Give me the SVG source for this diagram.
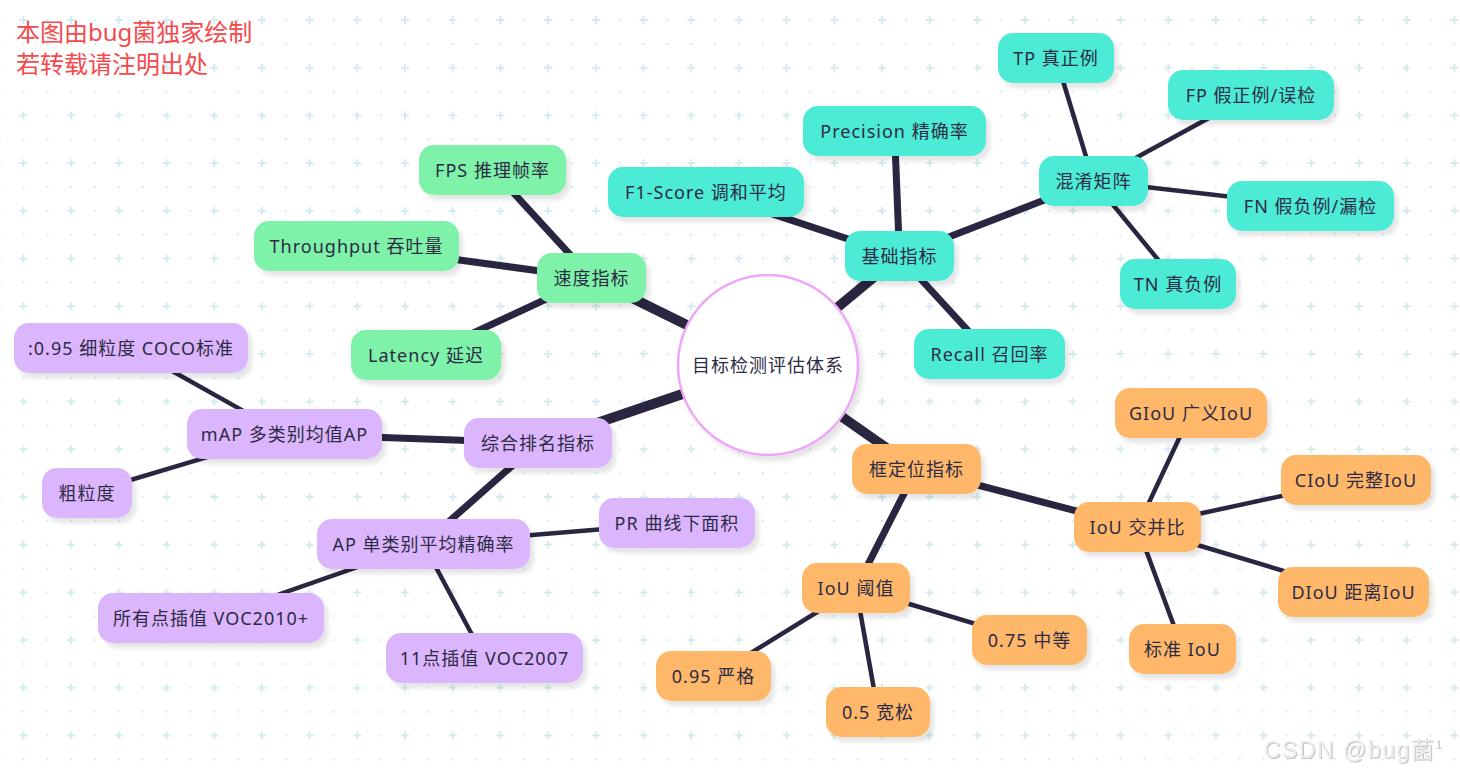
<svg xmlns="http://www.w3.org/2000/svg" width="1460" height="777" viewBox="0 0 1460 777">
<defs>
<pattern id="bg" x="11.475" y="8.075" width="47.7" height="47.7" patternUnits="userSpaceOnUse">
<path d="M7.9 11.925h8M11.925 7.9v8" stroke="#d4ecef" stroke-width="2"/>
<circle cx="35.775" cy="11.925" r="1.3" fill="#d8eef1"/>
<circle cx="11.925" cy="35.775" r="1.3" fill="#d8eef1"/>
<circle cx="35.775" cy="35.775" r="1.3" fill="#d8eef1"/>
</pattern>
<filter id="sh" x="-20%" y="-30%" width="140%" height="170%">
<feDropShadow dx="4" dy="5" stdDeviation="2" flood-color="#000" flood-opacity="0.1"/>
</filter>
<filter id="emb" x="-5%" y="-20%" width="110%" height="140%">
<feDropShadow dx="1" dy="1" stdDeviation="0.6" flood-color="#9a9a9a" flood-opacity="0.6"/>
</filter>
</defs>
<style>
.edge line{stroke:#2a2540;stroke-linecap:round}
.l1{stroke-width:10}
.l2{stroke-width:7}
.l3{stroke-width:4.5}
.node rect{filter:url(#sh)}
.node text{font-family:"Noto Sans","Noto Sans CJK SC",sans-serif;font-size:18px;fill:#2d2b45;text-anchor:middle;letter-spacing:1px}
.t rect{fill:#4bebd6}
.g rect{fill:#7df2a8}
.p rect{fill:#dcb6fc}
.o rect{fill:#ffb869}
.wm{font-family:"Noto Sans","Noto Sans CJK SC",sans-serif;font-size:24px;fill:#f5494c}
</style>
<rect width="1460" height="777" fill="#ffffff"/>
<rect width="1460" height="777" fill="url(#bg)"/>

<g id="connectors" class="edge">
<line class="l1" x1="768" y1="365" x2="899.5" y2="256"/>
<line class="l1" x1="768" y1="365" x2="591.5" y2="278"/>
<line class="l1" x1="768" y1="365" x2="538" y2="443"/>
<line class="l1" x1="768" y1="365" x2="916.5" y2="469"/>
<line class="l2" x1="899.5" y1="256" x2="894.5" y2="131"/>
<line class="l2" x1="899.5" y1="256" x2="706" y2="192"/>
<line class="l2" x1="899.5" y1="256" x2="989.5" y2="354"/>
<line class="l2" x1="899.5" y1="256" x2="1093.5" y2="181"/>
<line class="l2" x1="591.5" y1="278" x2="492.5" y2="170"/>
<line class="l2" x1="591.5" y1="278" x2="356.5" y2="246"/>
<line class="l2" x1="591.5" y1="278" x2="426" y2="355"/>
<line class="l2" x1="538" y1="443" x2="284.5" y2="434"/>
<line class="l2" x1="538" y1="443" x2="423.5" y2="544"/>
<line class="l2" x1="916.5" y1="469" x2="1137.5" y2="527"/>
<line class="l2" x1="916.5" y1="469" x2="856" y2="588"/>
<line class="l3" x1="1093.5" y1="181" x2="1056" y2="58"/>
<line class="l3" x1="1093.5" y1="181" x2="1251" y2="95"/>
<line class="l3" x1="1093.5" y1="181" x2="1310.5" y2="206"/>
<line class="l3" x1="1093.5" y1="181" x2="1178" y2="284"/>
<line class="l3" x1="284.5" y1="434" x2="131" y2="348"/>
<line class="l3" x1="284.5" y1="434" x2="87" y2="493"/>
<line class="l3" x1="423.5" y1="544" x2="677" y2="523"/>
<line class="l3" x1="423.5" y1="544" x2="211" y2="618"/>
<line class="l3" x1="423.5" y1="544" x2="484.5" y2="658"/>
<line class="l3" x1="1137.5" y1="527" x2="1191" y2="413"/>
<line class="l3" x1="1137.5" y1="527" x2="1356" y2="480"/>
<line class="l3" x1="1137.5" y1="527" x2="1353.5" y2="592"/>
<line class="l3" x1="1137.5" y1="527" x2="1182.5" y2="649"/>
<line class="l3" x1="856" y1="588" x2="1029.5" y2="640"/>
<line class="l3" x1="856" y1="588" x2="713.5" y2="676"/>
<line class="l3" x1="856" y1="588" x2="878" y2="712"/>
</g>

<g id="root" class="node">
<circle cx="768" cy="365" r="90" fill="#ffffff" stroke="#f0a6f8" stroke-width="2.5" filter="url(#sh)"/>
<text x="768" y="371.5">目标检测评估体系</text>
</g>

<g id="n-basic" class="node t"><rect x="845" y="231" width="109" height="50" rx="15"/><text x="899.5" y="262.5">基础指标</text></g>
<g id="n-precision" class="node t"><rect x="803" y="106" width="183" height="50" rx="15"/><text x="894.5" y="137.5">Precision 精确率</text></g>
<g id="n-f1" class="node t"><rect x="608" y="167" width="196" height="50" rx="15"/><text x="706" y="198.5">F1-Score 调和平均</text></g>
<g id="n-recall" class="node t"><rect x="914" y="329" width="151" height="50" rx="15"/><text x="989.5" y="360.5">Recall 召回率</text></g>
<g id="n-cm" class="node t"><rect x="1039" y="156" width="109" height="50" rx="15"/><text x="1093.5" y="187.5">混淆矩阵</text></g>
<g id="n-tp" class="node t"><rect x="998" y="33" width="116" height="50" rx="15"/><text x="1056" y="64.5">TP 真正例</text></g>
<g id="n-fp" class="node t"><rect x="1168" y="70" width="166" height="50" rx="15"/><text x="1251" y="101.5">FP 假正例/误检</text></g>
<g id="n-fn" class="node t"><rect x="1227" y="181" width="167" height="50" rx="15"/><text x="1310.5" y="212.5">FN 假负例/漏检</text></g>
<g id="n-tn" class="node t"><rect x="1120" y="259" width="116" height="50" rx="15"/><text x="1178" y="290.5">TN 真负例</text></g>

<g id="n-speed" class="node g"><rect x="537" y="253" width="109" height="50" rx="15"/><text x="591.5" y="284.5">速度指标</text></g>
<g id="n-fps" class="node g"><rect x="419" y="145" width="147" height="50" rx="15"/><text x="492.5" y="176.5">FPS 推理帧率</text></g>
<g id="n-throughput" class="node g"><rect x="254" y="221" width="205" height="50" rx="15"/><text x="356.5" y="252.5">Throughput 吞吐量</text></g>
<g id="n-latency" class="node g"><rect x="351" y="330" width="150" height="50" rx="15"/><text x="426" y="361.5">Latency 延迟</text></g>

<g id="n-rank" class="node p"><rect x="464" y="418" width="148" height="50" rx="15"/><text x="538" y="449.5">综合排名指标</text></g>
<g id="n-map" class="node p"><rect x="187" y="409" width="195" height="50" rx="15"/><text x="284.5" y="440.5">mAP 多类别均值AP</text></g>
<g id="n-coco" class="node p"><rect x="14" y="323" width="234" height="50" rx="15"/><text x="131" y="354.5">:0.95 细粒度 COCO标准</text></g>
<g id="n-coarse" class="node p"><rect x="42" y="468" width="90" height="50" rx="15"/><text x="87" y="499.5">粗粒度</text></g>
<g id="n-ap" class="node p"><rect x="317" y="519" width="213" height="50" rx="15"/><text x="423.5" y="550.5">AP 单类别平均精确率</text></g>
<g id="n-pr" class="node p"><rect x="599" y="498" width="156" height="50" rx="15"/><text x="677" y="529.5">PR 曲线下面积</text></g>
<g id="n-allpt" class="node p"><rect x="98" y="593" width="226" height="50" rx="15"/><text x="211" y="624.5">所有点插值 VOC2010+</text></g>
<g id="n-11pt" class="node p"><rect x="386" y="633" width="197" height="50" rx="15"/><text x="484.5" y="664.5">11点插值 VOC2007</text></g>

<g id="n-loc" class="node o"><rect x="852" y="444" width="129" height="50" rx="15"/><text x="916.5" y="475.5">框定位指标</text></g>
<g id="n-iou" class="node o"><rect x="1074" y="502" width="127" height="50" rx="15"/><text x="1137.5" y="533.5">IoU 交并比</text></g>
<g id="n-giou" class="node o"><rect x="1115" y="388" width="152" height="50" rx="15"/><text x="1191" y="419.5">GIoU 广义IoU</text></g>
<g id="n-ciou" class="node o"><rect x="1281" y="455" width="150" height="50" rx="15"/><text x="1356" y="486.5">CIoU 完整IoU</text></g>
<g id="n-diou" class="node o"><rect x="1278" y="567" width="151" height="50" rx="15"/><text x="1353.5" y="598.5">DIoU 距离IoU</text></g>
<g id="n-stdiou" class="node o"><rect x="1129" y="624" width="107" height="50" rx="15"/><text x="1182.5" y="655.5">标准 IoU</text></g>
<g id="n-thr" class="node o"><rect x="802" y="563" width="108" height="50" rx="15"/><text x="856" y="594.5">IoU 阈值</text></g>
<g id="n-075" class="node o"><rect x="972" y="615" width="115" height="50" rx="15"/><text x="1029.5" y="646.5">0.75 中等</text></g>
<g id="n-095" class="node o"><rect x="656" y="651" width="115" height="50" rx="15"/><text x="713.5" y="682.5">0.95 严格</text></g>
<g id="n-05" class="node o"><rect x="826" y="687" width="104" height="50" rx="15"/><text x="878" y="718.5">0.5 宽松</text></g>

<g id="watermark">
<text class="wm" x="16" y="41">本图由bug菌独家绘制</text>
<text class="wm" x="16" y="73">若转载请注明出处</text>
<text x="1264" y="758" font-family="'Liberation Sans','Noto Sans CJK SC',sans-serif" font-size="23" letter-spacing="1.5" fill="#ececec" filter="url(#emb)">CSDN @bug菌<tspan font-size="11" dy="-10" letter-spacing="0">1</tspan></text>
</g>
</svg>
